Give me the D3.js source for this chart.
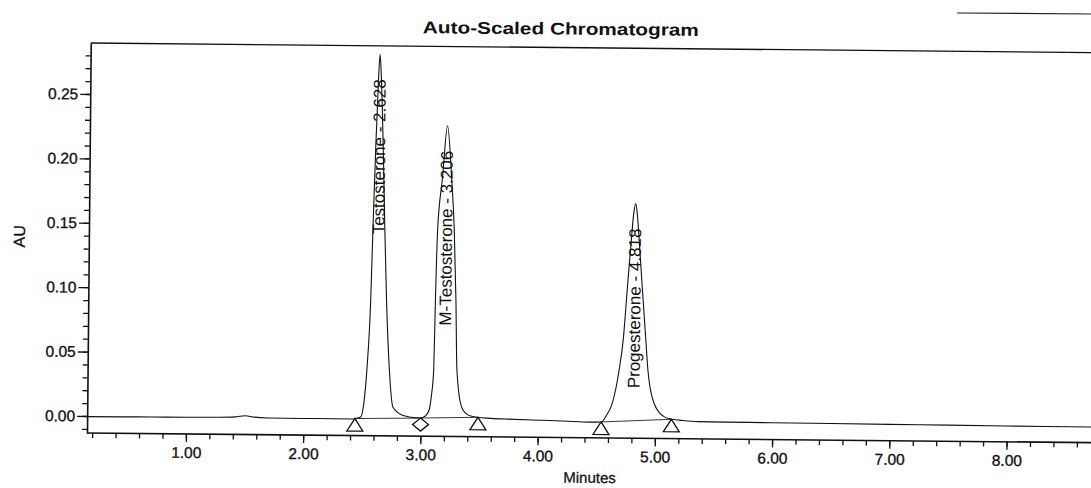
<!DOCTYPE html>
<html><head><meta charset="utf-8">
<script src="https://cdn.jsdelivr.net/npm/d3@7"></script>
<style>
html,body{margin:0;padding:0;background:#fff;}
svg{display:block;}
text{font-family:"Liberation Sans",Arial,sans-serif;fill:#111;}
</style></head>
<body>
<script>
// ---- data ----
const times = [0.156,0.45,0.716,1.00,1.281,1.42,1.503,1.58,1.70,1.852,2.10,2.421,
  2.44,2.49,2.515,2.538,2.565,2.578,2.595,2.614,2.625,2.638,2.660,2.680,2.700,2.730,2.763,2.84,2.92,
  3.00,3.04,3.072,3.09,3.108,3.117,3.130,3.168,3.206,3.245,3.272,3.292,3.306,3.348,3.403,3.478,
  3.60,3.75,3.95,4.10,4.30,4.46,4.543,
  4.58,4.635,4.69,4.722,4.752,4.783,4.800,4.818,4.833,4.850,4.882,4.915,4.935,4.99,5.08,5.141,
  5.21,5.365,5.60,6.00,6.50,7.00,7.50,8.00,8.72];
const au = [-0.0005,-0.0004,-0.0003,-0.0002,0.0000,0.0004,0.0014,0.0004,-0.0002,-0.0003,-0.0003,-0.0003,
  0.0000,0.0013,0.0122,0.0379,0.0922,0.1466,0.2087,0.2646,0.283,0.2646,0.2087,0.1466,0.0922,0.0379,0.0092,0.0031,0.0015,
  0.0009,0.0025,0.0072,0.018,0.0384,0.0927,0.147,0.188,0.228,0.188,0.147,0.0927,0.0384,0.0101,0.0037,0.0019,
  0.0012,0.0007,0.0002,-0.0001,-0.0006,-0.0010,-0.0008,
  0.0036,0.0141,0.0399,0.0631,0.1019,0.1408,0.160,0.169,0.160,0.1408,0.1019,0.0631,0.0399,0.0141,0.0036,0.0018,
  0.0012,0.0002,0.0000,-0.0001,-0.0003,-0.0005,-0.0007,-0.0009,-0.0011];

const peakNames = ["Testosterone - 2.628","M-Testosterone - 3.206","Progesterone - 4.818"];
const peakTimes = [2.628,3.206,4.818];
const peakHeights = [0.283,0.228,0.169];

const triangleTimes = [2.44,3.49,4.54,5.14];
const triangleValues = [0.0000,0.0019,-0.0008,0.0018];
const diamondTimes = [3.00];
const diamondValues = [0.0009];

const yMajor = [0,0.05,0.10,0.15,0.20,0.25];
const yMajorLabels = ["0.00","0.05","0.10","0.15","0.20","0.25"];
const yMinor = d3.range(-1,29).map(i=>i/100);
const xMajor = [1,2,3,4,5,6,7,8];
const xMajorLabels = ["1.00","2.00","3.00","4.00","5.00","6.00","7.00","8.00"];
const xMinor = d3.range(1,44).map(i=>i/5);

const title = "Auto-Scaled Chromatogram";
const xTitle = "Minutes";
const yTitle = "AU";

// ---- drawing ----
const W=1091,H=488;
const svg = d3.select("body").append("svg").attr("width",W).attr("height",H);
svg.append("rect").attr("width",W).attr("height",H).attr("fill","#fff");
svg.append("line").attr("x1",957).attr("x2",1091).attr("y1",13).attr("y2",14)
  .attr("stroke","#222").attr("stroke-width",1.2);

const g = svg.append("g").attr("transform","rotate(0.55,87,433)");
const x = d3.scaleLinear().domain([0.156,8.72]).range([87,1091]);
const y = d3.scaleLinear().domain([-0.0132,0.2896]).range([433,43]);

// frame
g.append("line").attr("x1",87).attr("x2",1110).attr("y1",43).attr("y2",43)
  .attr("stroke","#111").attr("stroke-width",1.3);

// y axis
const yMinorAxis = d3.axisLeft(y).tickValues(yMinor).tickSize(5).tickFormat("").tickSizeOuter(0);
const yMajorAxis = d3.axisLeft(y).tickValues(yMajor).tickSize(10).tickPadding(2)
  .tickFormat((d,i)=>yMajorLabels[i]).tickSizeOuter(0);
const ya1 = g.append("g").attr("transform","translate(87,0)").call(yMinorAxis);
ya1.select(".domain").remove();
const ya2 = g.append("g").attr("transform","translate(87,0)").call(yMajorAxis);
[ya1,ya2].forEach(a=>{a.selectAll("line").attr("stroke","#111").attr("stroke-width",1.3);});
ya2.select(".domain").attr("stroke","#111").attr("stroke-width",1.6);
ya2.selectAll("text").attr("font-size",15.5).attr("fill","#111").attr("font-family",null)
  .attr("stroke","#111").attr("stroke-width",0.35);

// x axis
const xMinorAxis = d3.axisBottom(x).tickValues(xMinor).tickSize(5).tickFormat("").tickSizeOuter(0);
const xMajorAxis = d3.axisBottom(x).tickValues(xMajor).tickSize(8).tickPadding(5)
  .tickFormat((d,i)=>xMajorLabels[i]).tickSizeOuter(0);
const xa1 = g.append("g").attr("transform","translate(0,433)").call(xMinorAxis);
xa1.select(".domain").remove();
const xa2 = g.append("g").attr("transform","translate(0,433)").call(xMajorAxis);
[xa1,xa2].forEach(a=>{a.selectAll("line").attr("stroke","#111").attr("stroke-width",1.3);});
xa2.select(".domain").attr("stroke","#111").attr("stroke-width",1.6).attr("d","M87,0H1110");
xa2.selectAll("text").attr("font-size",15.5).attr("fill","#111").attr("font-family",null)
  .attr("stroke","#111").attr("stroke-width",0.35);

// signal
const pts = times.map((t,i)=>[t,au[i]]);
const line = d3.line().x(d=>x(d[0])).y(d=>y(d[1])).curve(d3.curveMonotoneX);
g.append("path").datum(pts).attr("d",line).attr("fill","none")
  .attr("stroke","#111").attr("stroke-width",1.1);

// integration baselines
const bStart = [[triangleTimes[0],triangleValues[0]],[diamondTimes[0],diamondValues[0]],[triangleTimes[2],triangleValues[2]]];
const bEnd = [[diamondTimes[0],diamondValues[0]],[triangleTimes[1],triangleValues[1]],[triangleTimes[3],triangleValues[3]]];
bStart.forEach((s,i)=>{
  g.append("line").attr("x1",x(s[0])).attr("y1",y(s[1])).attr("x2",x(bEnd[i][0])).attr("y2",y(bEnd[i][1]))
   .attr("stroke","#222").attr("stroke-width",0.9);
});

// markers
triangleTimes.forEach((t,i)=>{
  const cx=x(t), cy=y(triangleValues[i]);
  g.append("path").attr("d",`M${cx},${cy}L${cx+8},${cy+12.5}L${cx-8},${cy+12.5}Z`)
   .attr("fill","#fff").attr("stroke","#111").attr("stroke-width",1.3);
});
diamondTimes.forEach((t,i)=>{
  const cx=x(t), cy=y(diamondValues[i])+6.5;
  g.append("path").attr("d",`M${cx},${cy-6.5}L${cx+8},${cy}L${cx},${cy+6.5}L${cx-8},${cy}Z`)
   .attr("fill","#fff").attr("stroke","#111").attr("stroke-width",1.3);
});

// peak labels
peakNames.forEach((n,i)=>{
  const px=x(peakTimes[i]), py=y(peakHeights[i])+25;
  g.append("text").attr("transform",`translate(${px},${py}) rotate(-90)`)
   .attr("text-anchor","end").attr("dominant-baseline","central")
   .attr("font-size",17).text(n);
});

// titles
g.append("text").attr("x",557).attr("y",30).attr("text-anchor","middle")
  .attr("font-size",17).attr("font-weight","bold")
  .attr("textLength",276).attr("lengthAdjust","spacingAndGlyphs").text(title);
g.append("text").attr("x",590).attr("y",478).attr("text-anchor","middle")
  .attr("font-size",15).attr("stroke","#111").attr("stroke-width",0.3).text(xTitle);
g.append("text").attr("transform","translate(23,237) rotate(-90)")
  .attr("text-anchor","middle").attr("font-size",16).attr("stroke","#111").attr("stroke-width",0.3).text(yTitle);
</script>
</body></html>
